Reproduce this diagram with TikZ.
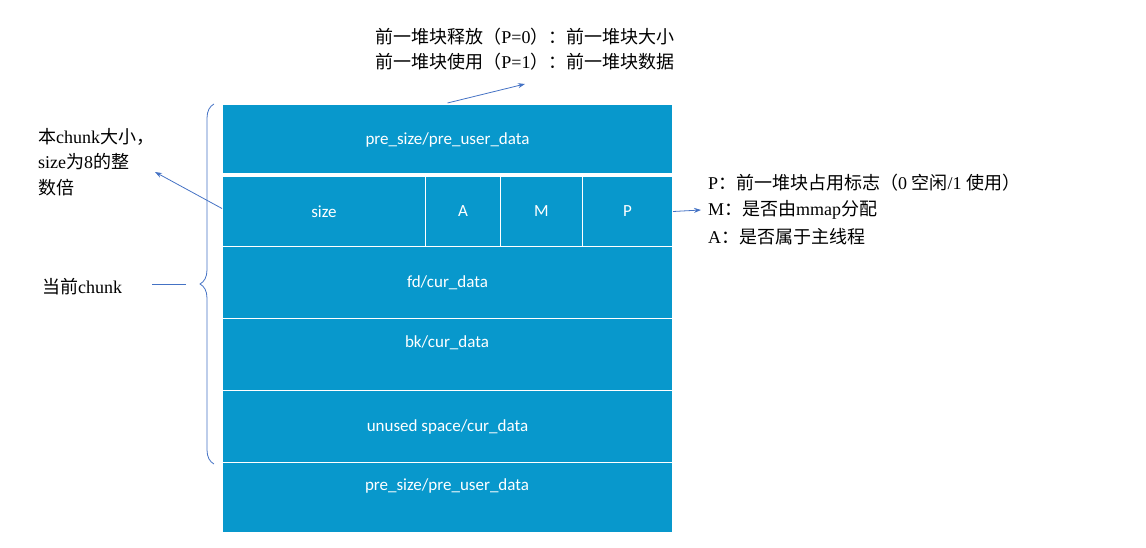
\documentclass[tikz,border=0pt]{standalone}
\usepackage{fontspec}
\setmainfont{Liberation Serif}
\setsansfont{Carlito}
\newfontfamily\cjk{Noto Sans CJK SC}
\usetikzlibrary{arrows.meta,decorations.pathreplacing}
\definecolor{boxblue}{RGB}{8,152,204}
\definecolor{lineblue}{RGB}{68,114,196}
\tikzset{
 cell/.style={fill=boxblue,draw=white,line width=1pt,inner sep=0pt,text=white,font=\sffamily\fontsize{17}{20}\selectfont},
 lbl/.style={font=\fontsize{18}{22}\selectfont,inner sep=0pt,align=left},
 conn/.style={draw=lineblue,line width=0.8pt,-{Stealth[length=7pt,width=5pt]}}
}
\begin{document}
\begin{tikzpicture}[x=1pt,y=-1pt]
\useasboundingbox (0,0) rectangle (1146,548);
\node[cell,minimum width=450,minimum height=70,anchor=north west] (r1) at (222,104) {pre\_size/pre\_user\_data};
\node[cell,minimum width=203,minimum height=70,anchor=north west] (sz) at (222,176) {size};
\node[cell,minimum width=75,minimum height=70,anchor=north west] (a) at (425,176) {A};
\node[cell,minimum width=82,minimum height=70,anchor=north west] (m) at (500,176) {M};
\node[cell,minimum width=90,minimum height=70,anchor=north west] (p) at (582,176) {P};
\draw[white,line width=3pt] (222,175) -- (672,175);
\node[cell,minimum width=450,minimum height=72,anchor=north west] (r3) at (222,246) {fd/cur\_data};
\node[cell,minimum width=450,minimum height=72,anchor=north west,text depth=30pt] (r4) at (222,318) {};
\node[text=white,font=\sffamily\fontsize{17}{20}\selectfont] at (447,343) {bk/cur\_data};
\node[cell,minimum width=450,minimum height=72,anchor=north west] (r5) at (222,390) {unused space/cur\_data};
\node[cell,minimum width=450,minimum height=70,anchor=north west,text depth=0pt] (r6) at (222,462) {};
\node[text=white,font=\sffamily\fontsize{17}{20}\selectfont] at (447,486) {pre\_size/pre\_user\_data};
% brace
\draw[lineblue,line width=0.8pt,decorate,decoration={brace,amplitude=14pt}] (214,464) -- (214,104);
\coordinate (btip) at (186,284);
\draw[lineblue,line width=0.8pt] (btip) -- (152,284);
\node[lbl,anchor=west] (cur) at (42,287) {{\cjk 当前}chunk};
% top text
\node[lbl,anchor=center] (top1) at (525,37) {{\cjk 前一堆块释放（}P=0{\cjk ）：前一堆块大小}};
\node[lbl,anchor=center] (top2) at (525,62) {{\cjk 前一堆块使用（}P=1{\cjk ）：前一堆块数据}};
\coordinate (tt) at (525,84);
\draw[conn] (r1.north) ++(0,-1) coordinate (rs) -- (tt);
% left text
\node[lbl,anchor=west] (l1) at (38,137) {{\cjk 本}chunk{\cjk 大小，}};
\node[lbl,anchor=west] (l2) at (38,162) {size{\cjk 为}8{\cjk 的整}};
\node[lbl,anchor=west] (l3) at (38,188) {{\cjk 数倍}};
\coordinate (lt) at (155,172);
\draw[conn] (sz.west) ++(0,-3) -- (lt);
% right text
\node[lbl,anchor=west] (p1) at (708,183) {P{\cjk ：前一堆块占用标志（}0 {\cjk 空闲}/1 {\cjk 使用）}};
\node[lbl,anchor=west] (p2) at (708,210) {M{\cjk ：是否由}mmap{\cjk 分配}};
\node[lbl,anchor=west] (p3) at (708,237) {A{\cjk ：是否属于主线程}};
\coordinate (pt) at (701,210);
\draw[conn] (p.east) -- (pt);
\end{tikzpicture}
\end{document}
